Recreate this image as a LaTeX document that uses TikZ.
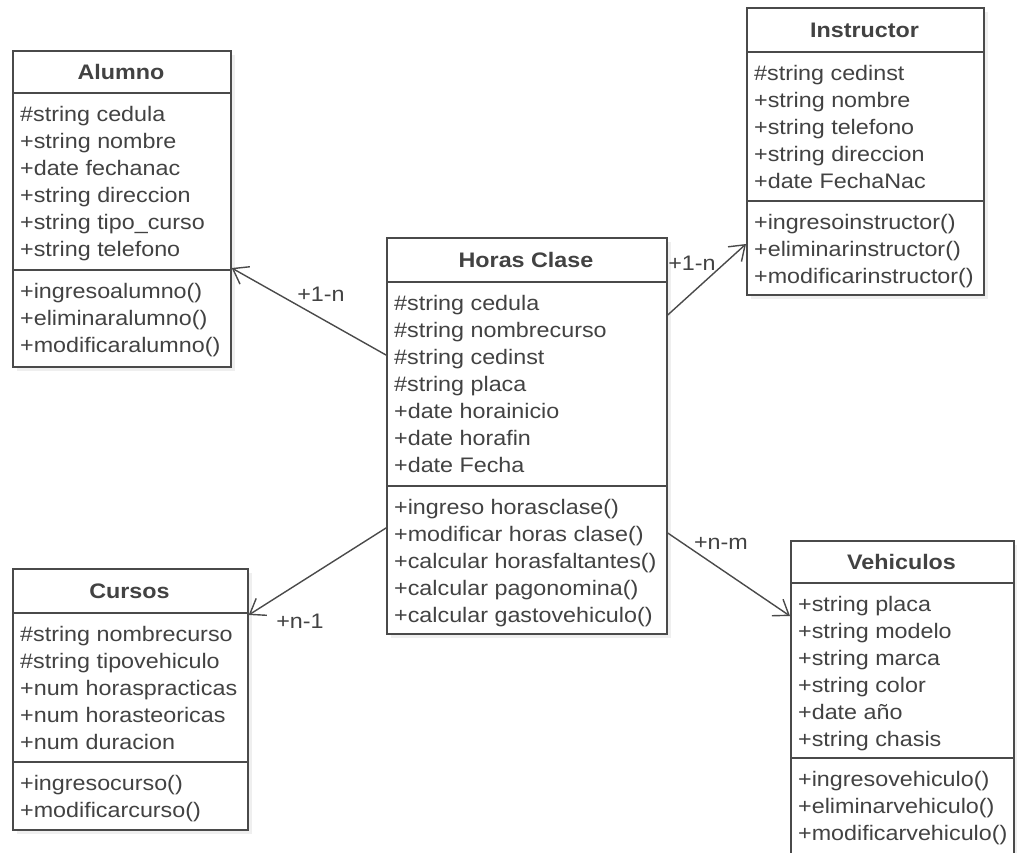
\documentclass[tikz,border=0pt]{standalone}
\usepackage{fontspec}
\setmainfont{Liberation Sans}[FakeStretch=1.11]
\usetikzlibrary{arrows.meta,shadows}

\definecolor{umlgris}{HTML}{4A4A4A}
\definecolor{umltexto}{HTML}{424242}

\tikzset{
  clase/.style={draw=umlgris, line width=1.7pt, fill=white, anchor=north west, inner sep=0pt,
    drop shadow={opacity=0.12, shadow xshift=4pt, shadow yshift=-4pt}},
  titulo/.style={font=\fontsize{21}{27}\selectfont\bfseries, text=umltexto},
  miembros/.style={anchor=north west, align=left, inner sep=0pt, font=\fontsize{21}{27}\selectfont,
    text=umltexto, execute at begin node=\strut},
  etiqueta/.style={font=\fontsize{21}{27}\selectfont, text=umltexto, inner sep=0pt},
  division/.style={draw=umlgris, line width=1.7pt},
  asociacion/.style={draw=umlgris, line width=1.4pt, line cap=round,
    -{Straight Barb[length=14pt,width=20pt,line join=miter]}},
}

\begin{document}
\begin{tikzpicture}[x=1pt,y=-1pt]
    \fill[white] (0,0) rectangle (1017,853);
    \clip (0,0) rectangle (1017,853);

    \node[clase, minimum width=218pt, minimum height=316pt] (alumno) at (12,50) {};
    \node[clase, minimum width=237pt, minimum height=287pt] (instructor) at (746,7) {};
    \node[clase, minimum width=280pt, minimum height=396pt] (horas) at (386,237) {};
    \node[clase, minimum width=235pt, minimum height=261pt] (cursos) at (12,568) {};
    \node[clase, minimum width=223pt, minimum height=330pt] (vehiculos) at (790,540) {};

    \draw[division] (12,93) -- (230,93);
    \draw[division] (12,270) -- (230,270);
    \draw[division] (746,52) -- (983,52);
    \draw[division] (746,201) -- (983,201);
    \draw[division] (386,282) -- (666,282);
    \draw[division] (386,486) -- (666,486);
    \draw[division] (12,613) -- (247,613);
    \draw[division] (12,762) -- (247,762);
    \draw[division] (790,583) -- (1013,583);
    \draw[division] (790,758) -- (1013,758);

    \node[titulo] (alumno-t) at (121,72) {Alumno};
    \node[miembros] (alumno-a) at (20,105.6) {\#string cedula\\+string nombre\\+date fechanac\\+string direccion\\+string tipo\_curso\\+string telefono};
    \node[miembros] (alumno-m) at (20,282.6) {+ingresoalumno()\\+eliminaralumno()\\+modificaralumno()};

    \node[titulo] (instructor-t) at (864.5,30) {Instructor};
    \node[miembros] (instructor-a) at (754,64.6) {\#string cedinst\\+string nombre\\+string telefono\\+string direccion\\+date FechaNac};
    \node[miembros] (instructor-m) at (754,213.6) {+ingresoinstructor()\\+eliminarinstructor()\\+modificarinstructor()};

    \node[titulo] (horas-t) at (526,260) {Horas Clase};
    \node[miembros] (horas-a) at (394,294.6) {\#string cedula\\\#string nombrecurso\\\#string cedinst\\\#string placa\\+date horainicio\\+date horafin\\+date Fecha};
    \node[miembros] (horas-m) at (394,498.6) {+ingreso horasclase()\\+modificar horas clase()\\+calcular horasfaltantes()\\+calcular pagonomina()\\+calcular gastovehiculo()};

    \node[titulo] (cursos-t) at (129.5,591) {Cursos};
    \node[miembros] (cursos-a) at (20,625.6) {\#string nombrecurso\\\#string tipovehiculo\\+num horaspracticas\\+num horasteoricas\\+num duracion};
    \node[miembros] (cursos-m) at (20,774.6) {+ingresocurso()\\+modificarcurso()};

    \node[titulo] (vehiculos-t) at (901.5,562) {Vehiculos};
    \node[miembros] (vehiculos-a) at (798,595.6) {+string placa\\+string modelo\\+string marca\\+string color\\+date año\\+string chasis};
    \node[miembros] (vehiculos-m) at (798,770.6) {+ingresovehiculo()\\+eliminarvehiculo()\\+modificarvehiculo()};

    \draw[asociacion] ([yshift=-118pt]horas.north west) -- ([yshift=-218pt]alumno.north east);
    \draw[asociacion] ([yshift=-78pt]horas.north east) -- ([yshift=-237pt]instructor.north west);
    \draw[asociacion] ([yshift=-291pt]horas.north west) -- ([yshift=-47pt]cursos.north east);
    \draw[asociacion] ([yshift=-296pt]horas.north east) -- ([yshift=-76pt]vehiculos.north west);

    \node[etiqueta] (mult-alumno) at (321,294) {+1-n};
    \node[etiqueta] (mult-instructor) at (692,263) {+1-n};
    \node[etiqueta] (mult-cursos) at (300,621) {+n-1};
    \node[etiqueta] (mult-vehiculos) at (721,543) {+n-m};
\end{tikzpicture}
\end{document}
